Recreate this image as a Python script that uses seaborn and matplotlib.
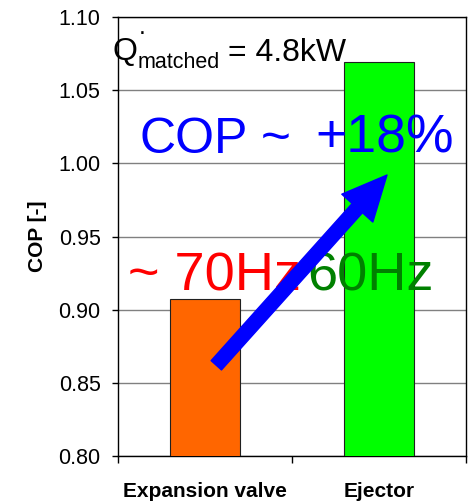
import matplotlib
matplotlib.use("Agg")
import matplotlib.pyplot as plt
import seaborn as sns
import pandas as pd
import numpy as np

categories = ["Expansion valve", "Ejector"]
cop_values = [0.907, 1.069]
bar_colors = ["#FF6600", "#00FF00"]
y_ticks = [0.80, 0.85, 0.90, 0.95, 1.00, 1.05, 1.10]

sns.set_theme(style="white")
plt.rcParams["font.family"] = ["Liberation Sans", "DejaVu Sans"]

df = pd.DataFrame({"cat": categories, "cop": cop_values})

fig = plt.figure(figsize=(4.68, 5.04), dpi=100)
ax = fig.add_axes([0.2521, 0.0952, 0.7436, 0.8711])

sns.barplot(data=df, x="cat", y="cop", hue="cat", palette=bar_colors,
            width=0.4, edgecolor="#202020", linewidth=0.8, legend=False,
            ax=ax, zorder=3, saturation=1)

ax.set_ylim(0.80, 1.10)
ax.set_xlim(-0.5, 1.5)
ax.set_yticks(y_ticks)
ax.set_yticklabels([f"{v:.2f}" for v in y_ticks])
ax.yaxis.grid(True, color="#808080", linewidth=1.0, zorder=0)
ax.set_axisbelow(True)
for s in ax.spines.values():
    s.set_visible(True)
    s.set_color("black")
    s.set_linewidth(1.0)

ax.tick_params(axis="y", which="major", left=True, length=4.5, width=1.0,
               color="black", pad=8, labelsize=15.5, labelcolor="black")
ax.set_xticks([-0.5, 0.5, 1.5], minor=True)
ax.tick_params(axis="x", which="minor", bottom=True, length=5, width=1.0, color="black")
ax.tick_params(axis="x", which="major", bottom=False, length=0, pad=19, labelsize=15,
               labelcolor="black")
for lab in ax.get_xticklabels():
    lab.set_fontweight("bold")

ax.set_xlabel("")
ax.set_ylabel("COP [-]", fontsize=15, fontweight="bold", color="black", labelpad=8)

def fx(px):
    return (px - 118) / 348.0

def fy(py):
    return (456 - py) / 439.0

# Q-dot matched = 4.8kW
ax.text(fx(113), fy(60), "Q", transform=ax.transAxes, fontsize=23, color="black",
        va="baseline", ha="left", zorder=5)
ax.text(fx(142), fy(34.5), ".", transform=ax.transAxes, fontsize=18, color="black",
        va="baseline", ha="center", zorder=5)
ax.text(fx(138), fy(68), "matched", transform=ax.transAxes, fontsize=15.5, color="black",
        va="baseline", ha="left", zorder=5)
ax.text(fx(228), fy(61), "= 4.8kW", transform=ax.transAxes, fontsize=23, color="black",
        va="baseline", ha="left", zorder=5)

# COP ~ +18%
blue = "#0000FF"
ax.text(fx(140), fy(153), "COP", transform=ax.transAxes, fontsize=36, color=blue,
        va="baseline", ha="left", zorder=5)
ax.text(fx(261), fy(153), "~", transform=ax.transAxes, fontsize=37, color=blue,
        va="baseline", ha="left", zorder=5)
ax.text(fx(315), fy(153), "+18%", transform=ax.transAxes, fontsize=38.5, color=blue,
        va="baseline", ha="left", zorder=5)

ax.text(fx(128), fy(290), "~ 70Hz", transform=ax.transAxes, fontsize=39,
        color="#FF0000", va="baseline", ha="left", zorder=4)
ax.text(fx(307), fy(290), "60Hz", transform=ax.transAxes, fontsize=39,
        color="#008000", va="baseline", ha="left", zorder=4)

ax.annotate("", xy=(1.046, 0.992), xytext=(0.065, 0.862), xycoords="data",
            arrowprops=dict(arrowstyle="simple,head_width=1.5,head_length=1.6,tail_width=0.5",
                            mutation_scale=20, color="#0000FF", shrinkA=0, shrinkB=0),
            zorder=6)

fig.savefig("out.png", dpi=100)
